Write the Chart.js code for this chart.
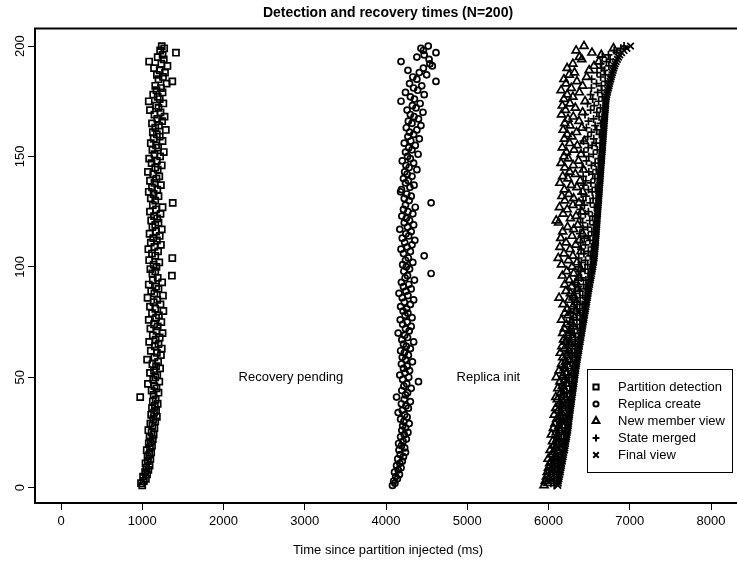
<!DOCTYPE html>
<html><head><meta charset="utf-8">
<script src="https://cdn.jsdelivr.net/npm/chart.js@4.4.0/dist/chart.umd.min.js"></script>
<style>html,body{margin:0;padding:0;background:#fff;overflow:hidden}#wrap{width:737px;height:563px;position:relative}</style>
</head><body><div id="wrap"><canvas id="c" width="737" height="563"></canvas></div>
<script>
const chartTitle = 'Detection and recovery times (N=200)';
const xTitle = 'Time since partition injected (ms)';
const seriesNames = ['Partition detection','Replica create','New member view','State merged','Final view'];
const xTicks = [0,1000,2000,3000,4000,5000,6000,7000,8000];
const yTicks = [0,50,100,150,200];
const notes = [{text:'Recovery pending', x:2830, y:50},{text:'Replica init', x:5260, y:50}];

const detection = [1000,985,1020,1045,1010,1060,1035,1075,1050,1090,1040,1070,1100,1065,1085,1110,1055,1095,1120,1080,
1105,1130,1090,1140,1115,1075,1150,1125,1100,1160,1135,1180,1110,1145,1170,1120,1155,1190,1130,1165,
975,1140,1200,1115,1175,1150,1070,1210,1135,1160,1185,1095,1145,1220,1170,1125,1195,1060,1150,1230,
1180,1105,1240,1155,1200,1085,1165,1215,1130,1250,1175,1100,1190,1145,1235,1080,1170,1205,1120,1260,
1160,1095,1225,1140,1185,1065,1255,1150,1110,1200,1170,1080,1245,1130,1190,1365,1125,1160,1100,1175,
1140,1210,1085,1370,1160,1120,1195,1075,1150,1230,1105,1180,1135,1215,1090,1170,1240,1125,1160,1200,
1110,1185,1145,1225,1095,1170,1250,1130,1375,1160,1105,1200,1140,1080,1185,1120,1230,1150,1095,1175,
1210,1135,1070,1190,1160,1240,1115,1180,1085,1220,1150,1265,1125,1195,1170,1105,1250,1140,1215,1180,
1130,1290,1160,1205,1120,1245,1185,1275,1150,1225,1095,1200,1170,1260,1080,1215,1190,1135,1250,1175,
1230,1160,1300,1370,1200,1255,1180,1280,1215,1145,1310,1235,1085,1265,1190,1250,1415,1220,1270,1240];

const replicaCreate = [4080,4110,4095,4140,4120,4165,4105,4150,4185,4130,4170,4200,4145,4215,4175,4240,4160,4230,4190,4155,
4210,4250,4180,4225,4270,4195,4240,4205,4285,4220,4180,4260,4230,4150,4200,4275,4245,4190,4300,4225,
4130,4240,4265,4195,4310,4220,4255,4400,4205,4280,4170,4235,4290,4215,4260,4190,4325,4240,4200,4275,
4225,4180,4300,4250,4215,4340,4195,4265,4230,4150,4285,4240,4310,4205,4260,4175,4320,4235,4270,4210,
4255,4180,4300,4225,4340,4200,4270,4160,4245,4310,4215,4280,4190,4350,4235,4265,4555,4220,4290,4250,
4205,4330,4240,4275,4470,4215,4300,4185,4260,4320,4230,4355,4200,4280,4245,4310,4170,4265,4340,4225,
4290,4250,4195,4330,4270,4215,4360,4240,4555,4285,4225,4310,4255,4180,4190,4295,4345,4240,4275,4215,
4320,4260,4230,4380,4285,4245,4340,4200,4300,4265,4395,4240,4320,4280,4360,4225,4305,4410,4270,4340,
4290,4380,4250,4430,4320,4275,4400,4345,4300,4455,4260,4370,4325,4420,4185,4350,4300,4470,4240,4390,
4340,4440,4290,4615,4380,4330,4500,4410,4270,4460,4570,4540,4185,4530,4380,4470,4615,4460,4430,4520];

const newMemberView = [5945,5990,5960,6010,5975,6030,5985,6045,6000,6060,
6015,6070,5995,6085,6040,6075,6020,6090,6065,6110,
6050,6105,6120,6035,6095,6140,6060,6130,6080,6150,
6100,6145,6070,6160,6120,6090,6175,6135,6185,6110,
6090,6190,6150,6205,6115,6170,6215,6140,6200,6095,
6180,6225,6130,6195,6240,6160,6210,6255,6175,6230,
6145,6250,6200,6165,6270,6215,6185,6290,6235,6175,
6260,6195,6305,6220,6280,6160,6320,6240,6200,6335,
6230,6300,6180,6345,6250,6130,6310,6270,6215,6360,
6285,6200,6340,6255,6380,6170,6310,6225,6395,6290,
6160,6350,6245,6120,6300,6190,6400,6265,6140,6335,
6215,6380,6150,6290,6420,6175,6310,6235,6360,6125,
6095,6270,6340,6180,6410,6230,6135,6300,6375,6200,
6310,6165,6250,6420,6195,6350,6280,6140,6390,6240,
6175,6330,6260,6430,6200,6305,6155,6370,6245,6190,
6400,6220,6315,6170,6355,6260,6440,6195,6290,6230,
6345,6180,6410,6265,6200,6375,6240,6305,6160,6420,
6210,6330,6170,6265,6450,6190,6300,6230,6380,6155,
6280,6420,6215,6350,6190,6470,6255,6320,6500,6230,
6560,6300,6620,6410,6380,6650,6535,6340,6800,6437];

const stateMerged = [6070,6029,6067,6019,6073,6104,6051,6078,6035,6110,
6078,6131,6059,6116,6155,6089,6142,6075,6129,6166,
6118,6158,6093,6187,6126,6167,6204,6124,6166,6196,
6142,6210,6175,6127,6218,6171,6208,6139,6242,6194,
6230,6146,6222,6264,6184,6216,6162,6258,6214,6251,
6196,6278,6239,6176,6301,6230,6273,6209,6297,6263,
6321,6237,6294,6226,6328,6280,6222,6334,6276,6317,
6260,6356,6304,6385,6263,6349,6307,6388,6271,6352,
6385,6316,6414,6350,6293,6389,6422,6328,6386,6452,
6365,6431,6324,6461,6404,6366,6489,6396,6449,6371,
6483,6404,6456,6372,6514,6436,6490,6401,6529,6455,
6393,6510,6441,6489,6386,6533,6430,6482,6554,6420,
6508,6395,6541,6454,6491,6392,6565,6442,6514,6425,
6548,6460,6402,6538,6491,6578,6434,6522,6459,6571,
6427,6545,6496,6589,6415,6528,6574,6467,6614,6496,
6552,6435,6601,6489,6536,6587,6430,6557,6483,6626,
6528,6594,6467,6574,6641,6492,6555,6622,6449,6595,
6518,6640,6563,6480,6617,6544,6662,6518,6605,6656,
6528,6650,6591,6698,6531,6642,6700,6597,6686,6654,
6743,6641,6713,6758,6662,6738,6837,6808,6890,6930];

const finalView = [6115,6119,6122,6129,6133,6139,6146,6148,6155,6160,
6163,6171,6174,6181,6185,6189,6197,6200,6204,6211,
6213,6218,6223,6227,6231,6237,6239,6244,6246,6251,
6252,6255,6260,6262,6268,6271,6273,6279,6282,6284,
6290,6291,6297,6299,6304,6306,6312,6313,6319,6321,
6326,6328,6334,6336,6341,6345,6348,6354,6357,6363,
6366,6372,6374,6381,6383,6390,6392,6399,6401,6407,
6410,6416,6419,6425,6428,6434,6437,6443,6446,6452,
6455,6461,6464,6470,6473,6479,6482,6488,6491,6497,
6500,6506,6509,6516,6519,6526,6529,6536,6539,6546,
6548,6554,6556,6562,6564,6566,6570,6571,6574,6575,
6578,6580,6581,6584,6586,6588,6590,6592,6594,6595,
6598,6600,6601,6604,6606,6607,6610,6612,6614,6615,
6618,6620,6622,6623,6626,6628,6629,6632,6634,6636,
6637,6640,6641,6644,6645,6648,6649,6652,6654,6656,
6657,6660,6661,6664,6666,6667,6670,6672,6673,6676,
6678,6679,6682,6684,6686,6687,6690,6692,6694,6695,
6698,6700,6703,6705,6707,6709,6712,6718,6725,6731,
6738,6745,6751,6758,6766,6772,6780,6787,6796,6804,
6813,6821,6833,6848,6862,6878,6900,6930,6965,7010];

const FONT = '"Liberation Sans", Arial, Helvetica, sans-serif';
const seriesValues = [detection, replicaCreate, newMemberView, stateMerged, finalView];
const styles = [
  {pointStyle:'rect', radius:4.3},
  {pointStyle:'circle', radius:3},
  {pointStyle:'triangle', radius:4.6},
  {pointStyle:'cross', radius:4},
  {pointStyle:'crossRot', radius:4.6}
];
const LW = 1.7;

const datasets = seriesValues.map((vals, k) => ({
  label: seriesNames[k],
  data: vals.map((v, i) => ({x: v, y: i + 1})),
  showLine: false,
  pointStyle: styles[k].pointStyle,
  pointRadius: styles[k].radius,
  pointBorderColor: '#000',
  pointBackgroundColor: 'rgba(0,0,0,0)',
  pointBorderWidth: LW,
  order: 5 - k
}));

const decor = {
  id: 'decor',
  afterDraw(chart) {
    const {ctx, chartArea: a, scales: {x, y}} = chart;
    ctx.save();
    ctx.strokeStyle = '#000';
    ctx.lineWidth = 2;
    ctx.strokeRect(a.left, a.top, a.right - a.left + 10, a.bottom - a.top);
    ctx.fillStyle = '#000';
    ctx.textAlign = 'center';
    ctx.textBaseline = 'middle';
    ctx.font = '13px ' + FONT;
    yTicks.forEach(v => {
      ctx.save();
      ctx.translate(20, y.getPixelForValue(v));
      ctx.rotate(-Math.PI / 2);
      ctx.fillText(String(v), 0, 0);
      ctx.restore();
    });
    notes.forEach(n => ctx.fillText(n.text, x.getPixelForValue(n.x), y.getPixelForValue(n.y)));
    const cx = (a.left + a.right) / 2 + 2;
    ctx.fillText(xTitle, cx, 550);
    ctx.font = 'bold 14px ' + FONT;
    ctx.fillText(chartTitle, cx, 13);
    // legend
    const bx = 587, by = 369, bw = 145, bh = 103, rowH = 17;
    ctx.lineWidth = 1;
    ctx.strokeRect(bx + 0.5, by + 0.5, bw, bh);
    ctx.font = '13px ' + FONT;
    ctx.textAlign = 'left';
    seriesNames.forEach((name, k) => {
      const cy = by + 18 + k * rowH;
      ctx.lineWidth = 2;
      ctx.strokeStyle = '#000';
      ctx.fillStyle = 'rgba(0,0,0,0)';
      Chart.helpers.drawPoint(ctx, {pointStyle: styles[k].pointStyle, radius: styles[k].radius * 0.85, borderWidth: 2, rotation: 0}, bx + 9, cy);
      ctx.fillStyle = '#000';
      ctx.fillText(name, bx + 31, cy);
    });
    ctx.restore();
  }
};

new Chart(document.getElementById('c'), {
  type: 'scatter',
  data: {datasets},
  plugins: [decor],
  options: {
    responsive: false,
    animation: false,
    events: [],
    layout: {padding: {top: 28.5, left: 0, right: 0, bottom: 0}, autoPadding: false},
    plugins: {legend: {display: false}, title: {display: false}, tooltip: {enabled: false}},
    scales: {
      x: {
        type: 'linear', min: -320, max: 8320,
        afterFit(s) { s.height = 60; },
        afterBuildTicks(s) { s.ticks = xTicks.map(v => ({value: v})); },
        grid: {drawOnChartArea: false, drawTicks: true, tickLength: 7, color: '#000', lineWidth: 1},
        border: {display: false},
        ticks: {color: '#000', font: {family: FONT, size: 13}, padding: 4, maxRotation: 0, autoSkip: false,
                callback: v => String(v)}
      },
      y: {
        type: 'linear', min: -6.96, max: 207.96,
        afterFit(s) { s.width = 35; },
        afterBuildTicks(s) { s.ticks = yTicks.map(v => ({value: v})); },
        grid: {drawOnChartArea: false, drawTicks: true, tickLength: 7, color: '#000', lineWidth: 1},
        border: {display: false},
        ticks: {display: false}
      }
    }
  }
});
</script>
</body></html>
